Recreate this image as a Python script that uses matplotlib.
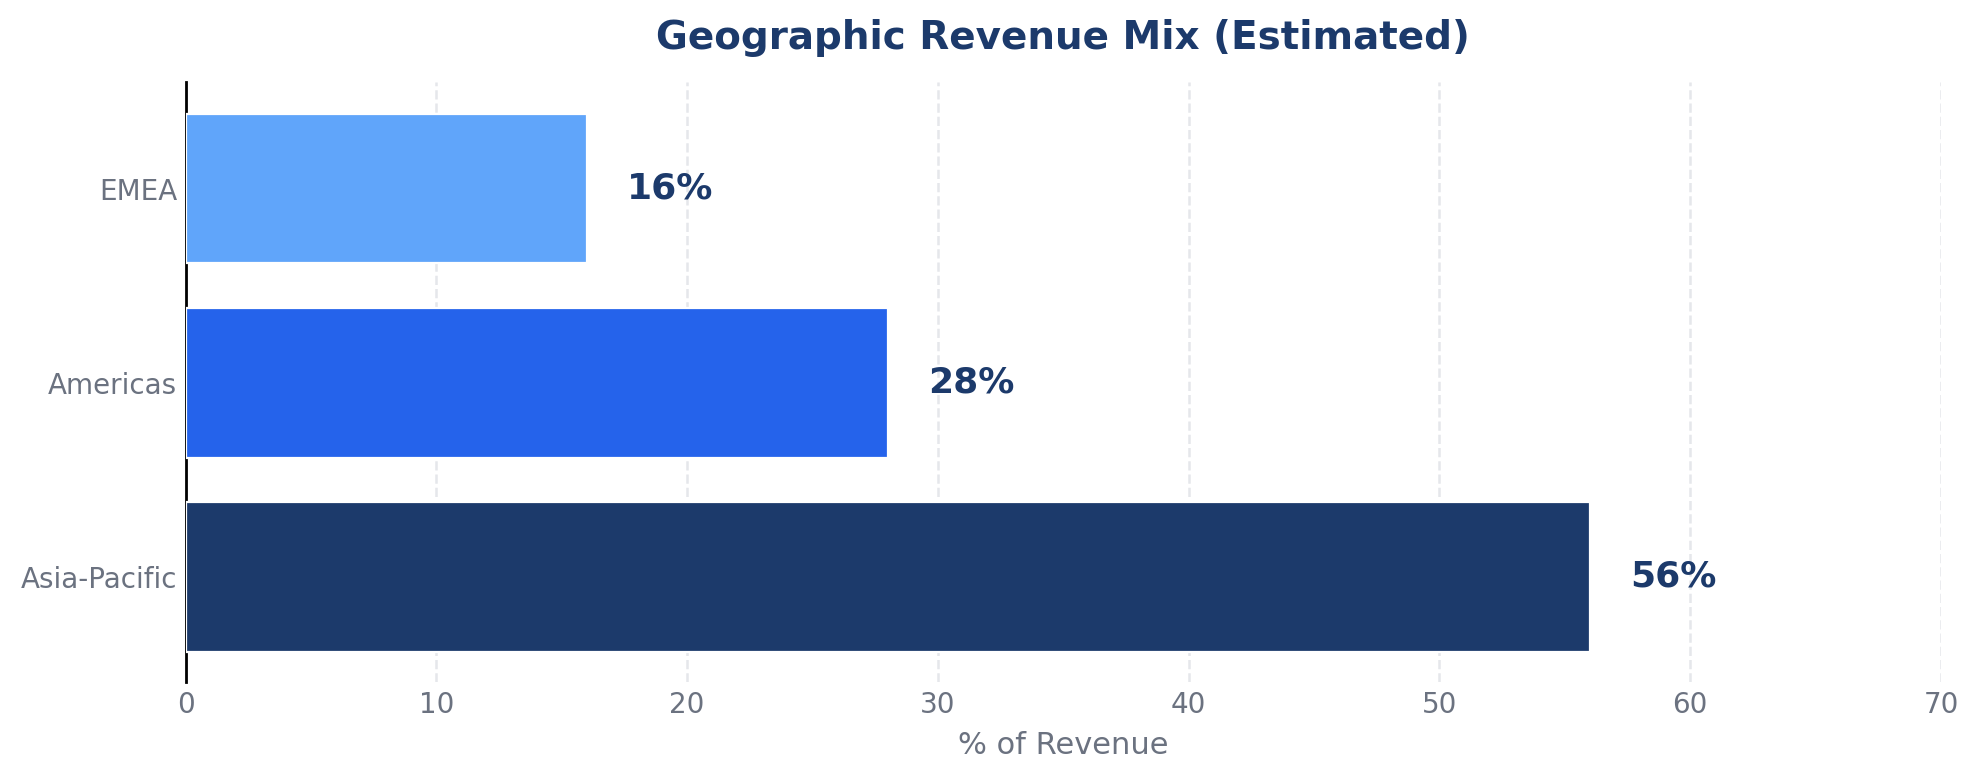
import matplotlib.pyplot as plt
import numpy as np

regions = ["Asia-Pacific", "Americas", "EMEA"]
shares = [56, 28, 16]
colors = ["#1C3A6B", "#2563EB", "#60A5FA"]

TITLE_CLR = "#1C3A6B"
GRAY = "#6B7280"

fig = plt.figure(figsize=(9.895, 3.9), dpi=200)
ax = fig.add_axes([0.0938, 0.126, 0.887, 0.769])

y = np.arange(len(regions))
ax.barh(y, shares, height=0.77, color=colors, edgecolor="white", linewidth=0.8,
        zorder=3)
ax.set_yticks(y)
ax.set_yticklabels(regions)
ax.set_xlim(0, 70)
ax.set_ylim(-0.54, 2.55)
ax.set_xticks(np.arange(0, 71, 10))

for yi, v in zip(y, shares):
    ax.text(v + 1.6, yi, f"{v}%", va="center", ha="left", fontsize=13,
            fontweight="bold", color=TITLE_CLR)

ax.set_title("Geographic Revenue Mix (Estimated)", fontsize=14,
             fontweight="bold", color=TITLE_CLR, pad=12)
ax.set_xlabel("% of Revenue", fontsize=11, color=GRAY)
ax.tick_params(axis="both", length=0, labelsize=10, labelcolor=GRAY)
ax.tick_params(axis="y", pad=3)
ax.grid(axis="x", linestyle="--", color="#E5E7EB", linewidth=0.9, zorder=0)
ax.set_axisbelow(True)
for side in ("top", "right", "bottom"):
    ax.spines[side].set_visible(False)
ax.spines["left"].set_color("black")
ax.spines["left"].set_linewidth(1.0)

fig.savefig("out.png", dpi=200)
